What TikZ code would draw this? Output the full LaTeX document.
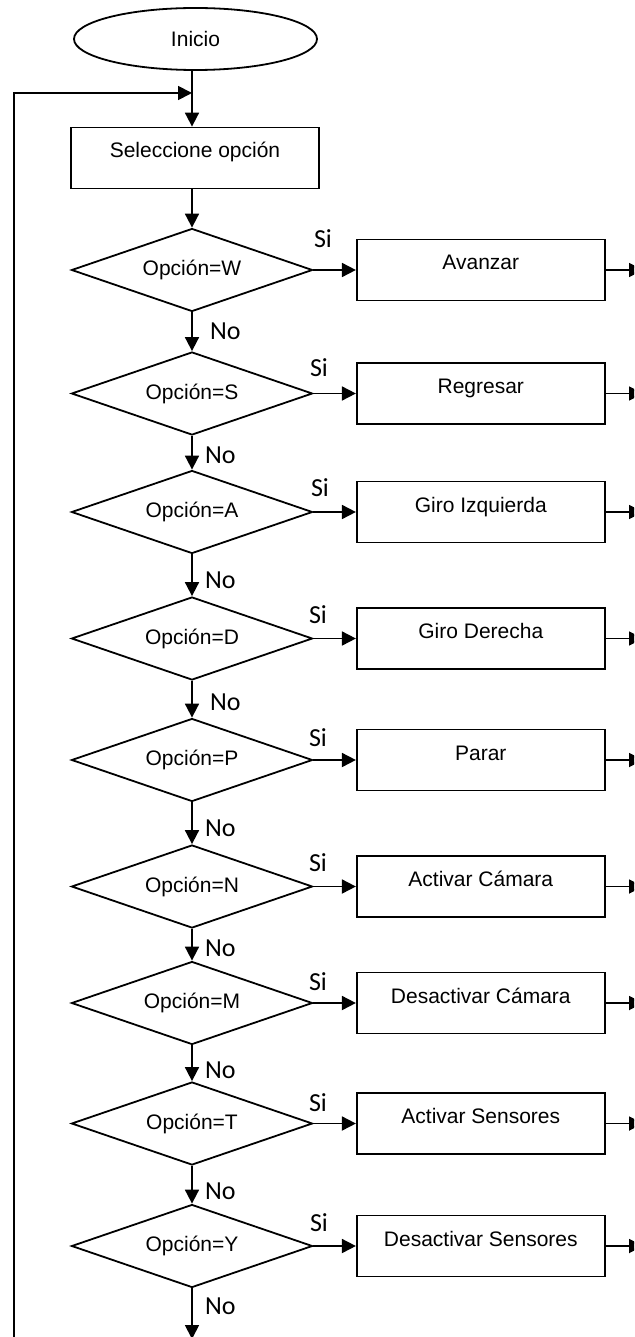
\documentclass[tikz,border=0pt]{standalone}
\usepackage{fontspec}
\setmainfont{Liberation Sans}
\newfontfamily\lblfamily{Carlito}
\usetikzlibrary{shapes.geometric,arrows.meta}

\newcommand{\boxfont}{\fontsize{21}{25}\selectfont}
\newcommand{\lblfont}{\lblfamily\fontsize{26}{30}\selectfont}

\tikzset{
  base/.style={draw, line width=1.8pt, font=\boxfont, inner sep=0pt},
  term/.style={base, ellipse, minimum width=243pt, minimum height=62pt},
  proc/.style={base, rectangle, minimum width=248pt, minimum height=61pt,
               text height=12pt, text depth=12pt},
  dec/.style={base, diamond, aspect=2.9, minimum width=241pt, minimum height=83pt},
  lbl/.style={font=\lblfont, inner sep=0pt},
  nolbl/.style={lbl, anchor=west},
  flow/.style={line width=1.8pt, -{Triangle[length=14pt,width=14pt]}},
  wire/.style={line width=1.8pt},
}

\begin{document}
\begin{tikzpicture}[x=1pt, y=-1pt]
  \useasboundingbox (0,0) rectangle (634,1337);
  \clip (0,0) rectangle (634,1337);

  % start and menu prompt
  \node[term] (ini) at (195.5,39) {Inicio};
  \node[proc] (sel) at (195,158) {Seleccione opción};
  \coordinate (join) at (192,93);
  \coordinate (lb) at (14,1345);

  % one decision / action pair per key
  \foreach \i/\y/\k/\t/\sx/\sy in {
      1/270/W/Avanzar/323/239,
      2/393.5/S/Regresar/319/367.5,
      3/512/A/Giro Izquierda/320/488,
      4/638.5/D/Giro Derecha/318/615,
      5/760/P/Parar/318/738,
      6/886.5/N/Activar Cámara/318/862.5,
      7/1003/M/Desactivar Cámara/318/982,
      8/1123.5/T/Activar Sensores/318/1102.5,
      9/1246/Y/Desactivar Sensores/319/1222.5}{
    \node[dec] (d\i) at (192,\y) {Opción=\k};
    \node[proc] (p\i) at (480.8,\y) {\t};
    \coordinate (e\i) at (643,\y);
    \draw[flow] (d\i.east) -- (p\i.west);
    \draw[flow] (p\i.east) -- (e\i);
    \node[lbl] (s\i) at (\sx,\sy) {Si};
  }

  % main stem
  \draw[wire] (ini.south -| join) -- (join);
  \draw[flow] (join) -- (sel.north -| join);
  \draw[flow] (sel.south -| d1.north) -- (d1.north);
  \draw[flow] (lb) |- (join);

  % "No" branches
  \foreach \a/\b in {1/2,2/3,3/4,4/5,5/6,6/7,7/8,8/9}{
    \draw[flow] (d\a.south) -- (d\b.north);
  }
  \coordinate (fin) at (192,1339);
  \draw[flow] (d9.south) -- (fin);

  \node[nolbl] (n1) at (210,331.5) {No};
  \node[nolbl] (n2) at (205,455) {No};
  \node[nolbl] (n3) at (205,580) {No};
  \node[nolbl] (n4) at (210,702.5) {No};
  \node[nolbl] (n5) at (205,828) {No};
  \node[nolbl] (n6) at (205,948) {No};
  \node[nolbl] (n7) at (205,1070) {No};
  \node[nolbl] (n8) at (205,1191.5) {No};
  \node[nolbl] (n9) at (205,1306.5) {No};
\end{tikzpicture}
\end{document}
